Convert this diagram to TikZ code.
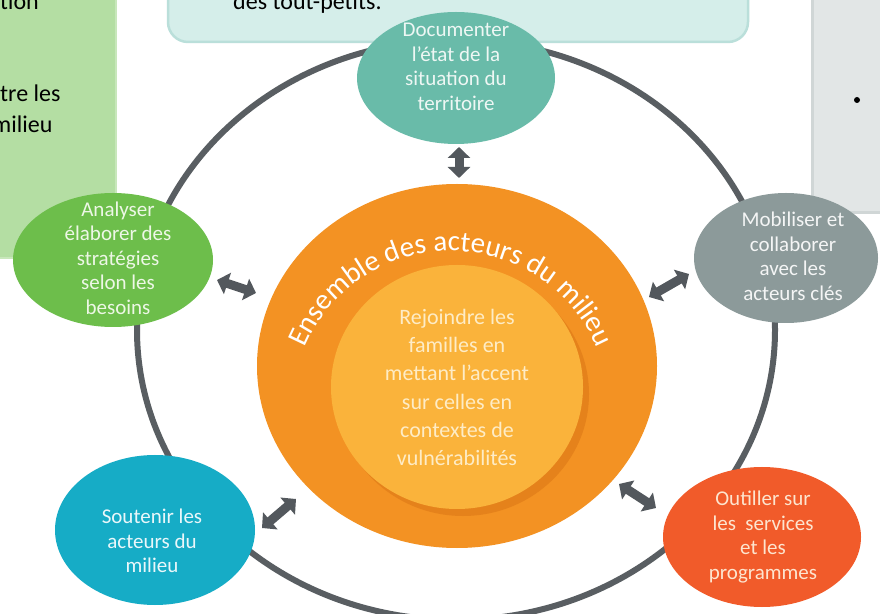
\documentclass[tikz,border=0pt]{standalone}
\usepackage{fontspec}
\setmainfont{Carlito}
\usetikzlibrary{shapes.geometric,arrows.meta,decorations.text}
\definecolor{greenbox}{HTML}{B4DEA3}
\definecolor{greenedge}{HTML}{C8E7BB}
\definecolor{tealbox}{HTML}{D5EEEA}
\definecolor{tealedge}{HTML}{BADFDA}
\definecolor{graybox}{HTML}{E2E6E6}
\definecolor{grayedge}{HTML}{D0D6D6}
\definecolor{ringc}{HTML}{595E62}
\definecolor{orangeA}{HTML}{F39223}
\definecolor{orangeS}{HTML}{E5821B}
\definecolor{innerc}{HTML}{FAB33B}
\definecolor{innertxt}{HTML}{FEECC6}
\definecolor{tealc}{HTML}{69BBA9}
\definecolor{tealtxt}{HTML}{EEF7F4}
\definecolor{greenc}{HTML}{6DBE4B}
\definecolor{greentxt}{HTML}{EDF7E6}
\definecolor{grayc}{HTML}{8C9A9A}
\definecolor{graytxt}{HTML}{F4F5F5}
\definecolor{cyanc}{HTML}{16ACC6}
\definecolor{cyantxt}{HTML}{EAF7FA}
\definecolor{redc}{HTML}{F15B2A}
\definecolor{redtxt}{HTML}{FDE5CF}
\definecolor{arrc}{HTML}{53585D}
\tikzset{
  oval/.style={ellipse, inner sep=0pt, draw=none},
  otext/.style={align=center, inner sep=0pt, font=\fontsize{21}{24.5}\selectfont},
  boxtext/.style={anchor=base west, inner sep=0pt, font=\fontsize{24}{24}\selectfont, text=black},
  biarr/.style={draw=arrc, line width=9pt, {Triangle[length=11pt,width=22pt]}-{Triangle[length=11pt,width=22pt]}}
}
\begin{document}
\begin{tikzpicture}[x=1pt,y=1pt]
\useasboundingbox (0,0) rectangle (880,613);
\clip (0,0) rectangle (880,613);
\fill[white] (0,0) rectangle (880,613);
% background boxes
\draw[fill=greenbox, draw=greenedge, line width=2pt] (-10,355) rectangle (116,623);
\draw[fill=tealbox, draw=tealedge, line width=2.5pt, rounded corners=20pt] (168,571) rectangle (748,645);
\draw[fill=graybox, draw=grayedge, line width=3pt] (812,400) rectangle (890,623);
\node[boxtext] (g1) at (0,603) {tion};
\node[boxtext] (g2) at (0,511) {tre les};
\node[boxtext] (g3) at (-8,480) {milieu};
\node[boxtext] (t1) at (233,603) {des tout-petits.};
\node[circle, fill=black, inner sep=0pt, minimum size=6pt] (bul) at (857,513) {};
% ring
\node[ellipse, draw=ringc, line width=6pt, minimum width=638pt, minimum height=580pt, inner sep=0pt] (ring) at (456,283) {};
% central disks
\node[ellipse, fill=orangeA, minimum width=400pt, minimum height=364pt, inner sep=0pt] (outer) at (457,247) {};
\node[ellipse, fill=orangeS, minimum width=252pt, minimum height=244pt, inner sep=0pt] (innersh) at (463,219) {};
\node[ellipse, fill=innerc, minimum width=252pt, minimum height=244pt, inner sep=0pt] (inner) at (457,226) {};
\node[align=center, text=innertxt, inner sep=0pt, font=\fontsize{22}{28.2}\selectfont] (innertext) at (457,225.5)
  {Rejoindre les\\familles en\\mettant l’accent\\sur celles en\\contextes de\\vulnérabilités};
\path[decorate, decoration={text along path, text align=center,
   text={|\color{white}\fontsize{29}{29}\selectfont|Ensemble des acteurs du milieu}}]
   (451,203) ++(164:159) arc[start angle=164, end angle=16, radius=159];
% outer ellipses
\node[oval, fill=tealc, minimum width=198pt, minimum height=132pt] (doc) at (456,535) {};
\node[otext, text=tealtxt] (doctxt) at (456,546) {Documenter\\l’état de la\\situation du\\territoire};
\node[oval, fill=greenc, minimum width=200pt, minimum height=134pt] (ana) at (113,353) {};
\node[otext, text=greentxt] (anatxt) at (118,355) {Analyser\\élaborer des\\stratégies\\selon les\\besoins};
\node[oval, fill=grayc, minimum width=184pt, minimum height=130pt] (mob) at (786,355) {};
\node[otext, text=graytxt] (mobtxt) at (793,356.5) {Mobiliser et\\collaborer\\avec les\\acteurs clés};
\node[oval, fill=cyanc, minimum width=200pt, minimum height=150pt] (sou) at (155,83) {};
\node[otext, text=cyantxt] (soutxt) at (152,72) {Soutenir les\\acteurs du\\milieu};
\node[oval, fill=redc, minimum width=198pt, minimum height=140pt] (out) at (762,76) {};
\node[otext, text=redtxt] (outtxt) at (763,76) {Outiller sur\\les\ \ services\\et les\\programmes};
% double arrows
\coordinate (a1s) at (459,466); \coordinate (a1e) at (459,435);
\coordinate (a2s) at (217,333); \coordinate (a2e) at (256,320);
\coordinate (a3s) at (649,316); \coordinate (a3e) at (689,339);
\coordinate (a4s) at (262,85);  \coordinate (a4e) at (296,114);
\coordinate (a5s) at (619,129); \coordinate (a5e) at (656,105);
\draw[biarr] (a1s) -- (a1e);
\draw[biarr] (a2s) -- (a2e);
\draw[biarr] (a3s) -- (a3e);
\draw[biarr] (a4s) -- (a4e);
\draw[biarr] (a5s) -- (a5e);
\end{tikzpicture}
\end{document}
